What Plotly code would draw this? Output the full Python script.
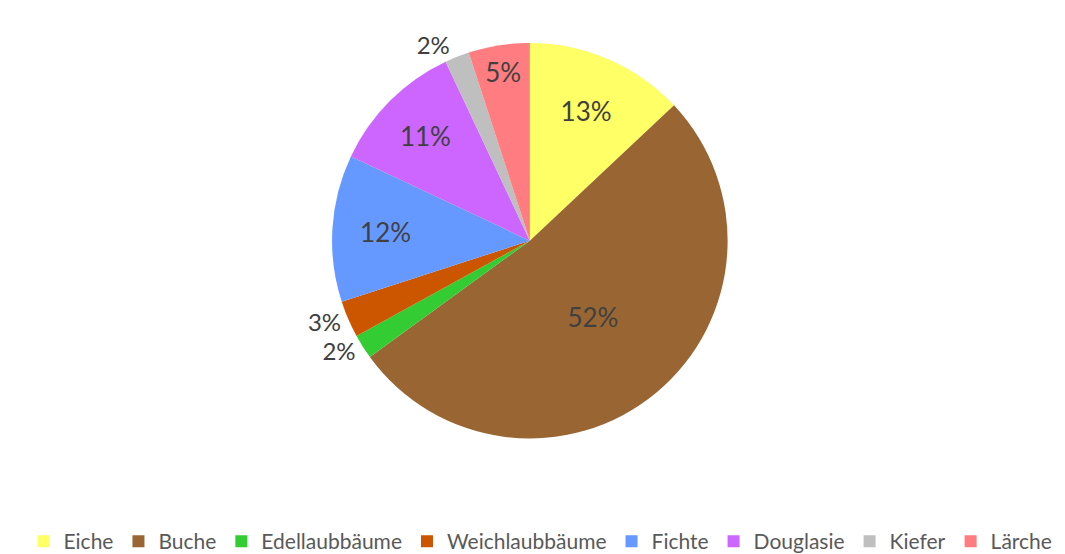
import plotly.graph_objects as go

species = ["Eiche", "Buche", "Edellaubbäume", "Weichlaubbäume", "Fichte", "Douglasie", "Kiefer", "Lärche"]
shares = [13, 52, 2, 3, 12, 11, 2, 5]
colors = ["#FFFF66", "#996633", "#33CC33", "#CC5500", "#6699FF", "#CC66FF", "#BFBFBF", "#FF7C80"]
text_pos = ["inside", "inside", "outside", "outside", "inside", "inside", "outside", "inside"]

fig = go.Figure(go.Pie(
    labels=species,
    values=shares,
    sort=False,
    direction="clockwise",
    rotation=0,
    marker=dict(colors=colors, line=dict(width=0)),
    textinfo="percent",
    texttemplate="%{percent:.0%}",
    textposition=text_pos,
    insidetextorientation="horizontal",
    textfont=dict(family="Lato, Liberation Sans, sans-serif", size=26, color="#404040"),
    outsidetextfont=dict(family="Lato, Liberation Sans, sans-serif", size=24, color="#404040"),
    domain=dict(x=[0.27, 0.71], y=[0.223, 0.937]),
    hole=0,
))

fig.update_layout(
    width=1065, height=554,
    margin=dict(l=0, r=0, t=0, b=0),
    paper_bgcolor="white",
    plot_bgcolor="white",
    showlegend=True,
    legend=dict(
        orientation="h",
        x=0.5, xanchor="center",
        y=0.0, yanchor="bottom",
        font=dict(family="Lato, Liberation Sans, sans-serif", size=21, color="#595959"),
        itemwidth=30,
        tracegroupgap=0,
    ),
)

fig.write_html("out.html")
